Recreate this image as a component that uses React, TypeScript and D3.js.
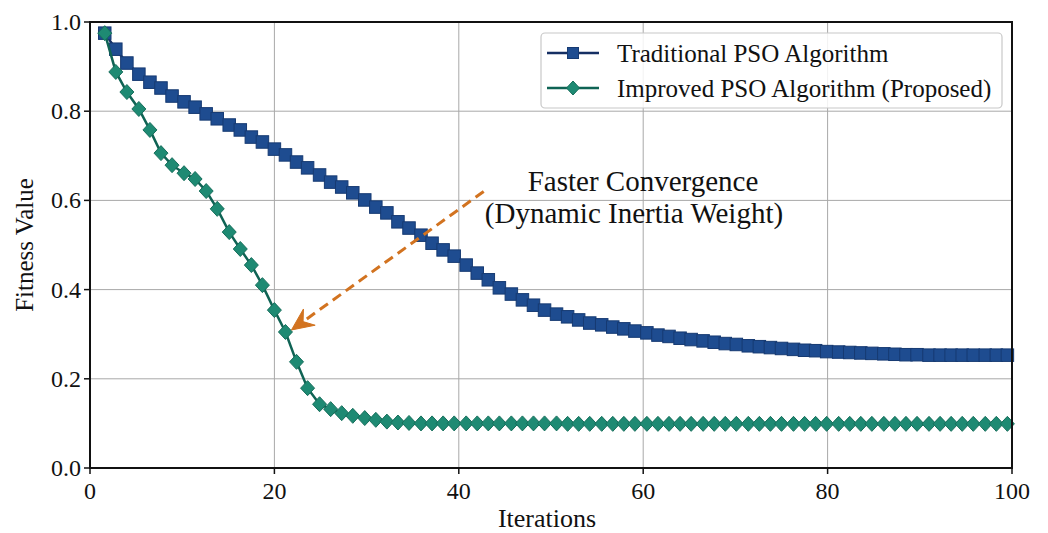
import React from "react";
import * as d3 from "d3";

const iterations = [
  1.6, 2.8, 4.0, 5.3, 6.5, 7.7, 8.9, 10.2, 11.4, 12.6, 13.8, 15.1, 16.3, 17.5, 18.7, 20.0,
  21.2, 22.4, 23.6, 24.9, 26.1, 27.3, 28.5, 29.8, 31.0, 32.2, 33.4, 34.6, 35.9, 37.1, 38.3,
  39.5, 40.8, 42.0, 43.2, 44.4, 45.7, 46.9, 48.1, 49.3, 50.6, 51.8, 53.0, 54.2, 55.5, 56.7,
  57.9, 59.1, 60.4, 61.6, 62.8, 64.0, 65.2, 66.5, 67.7, 68.9, 70.1, 71.4, 72.6, 73.8, 75.0,
  76.3, 77.5, 78.7, 79.9, 81.2, 82.4, 83.6, 84.8, 86.1, 87.3, 88.5, 89.7, 91.0, 92.2, 93.4,
  94.6, 95.8, 97.1, 98.3, 99.5,
];

const traditionalPSO = [
  0.975, 0.939, 0.908, 0.883, 0.865, 0.852, 0.834, 0.821, 0.809, 0.794, 0.783, 0.769, 0.758,
  0.742, 0.731, 0.715, 0.702, 0.686, 0.673, 0.657, 0.641, 0.63, 0.617, 0.601, 0.585, 0.572,
  0.552, 0.538, 0.522, 0.504, 0.489, 0.475, 0.455, 0.437, 0.422, 0.404, 0.39, 0.377, 0.365,
  0.354, 0.345, 0.339, 0.332, 0.325, 0.321, 0.316, 0.312, 0.307, 0.303, 0.298, 0.295, 0.291,
  0.288, 0.285, 0.282, 0.279, 0.277, 0.274, 0.272, 0.27, 0.268, 0.266, 0.264, 0.263, 0.261,
  0.26, 0.259, 0.258, 0.257, 0.256, 0.255, 0.254, 0.254, 0.253, 0.253, 0.253, 0.253, 0.253,
  0.253, 0.253, 0.253,
];

const improvedPSO = [
  0.975, 0.888, 0.843, 0.805, 0.758, 0.706, 0.679, 0.661, 0.648, 0.621, 0.581, 0.529, 0.491,
  0.455, 0.41, 0.354, 0.305, 0.238, 0.179, 0.143, 0.132, 0.123, 0.117, 0.112, 0.108, 0.104,
  0.102, 0.101, 0.1, 0.1, 0.1, 0.1, 0.1, 0.1, 0.1, 0.1, 0.1, 0.1, 0.1, 0.1, 0.1, 0.099, 0.099,
  0.099, 0.099, 0.099, 0.099, 0.099, 0.099, 0.099, 0.099, 0.099, 0.099, 0.099, 0.099, 0.099,
  0.099, 0.099, 0.099, 0.099, 0.099, 0.099, 0.099, 0.099, 0.099, 0.099, 0.099, 0.099, 0.099,
  0.099, 0.099, 0.099, 0.099, 0.099, 0.099, 0.099, 0.099, 0.099, 0.099, 0.099, 0.099,
];

const xTicks = [0, 20, 40, 60, 80, 100];
const yTicks = [0, 0.2, 0.4, 0.6, 0.8, 1.0];
const seriesNames = ["Traditional PSO Algorithm", "Improved PSO Algorithm (Proposed)"];
const annotationLines = ["Faster Convergence", "(Dynamic Inertia Weight)"];
const annotationTarget = { x: 21.2, y: 0.305 };
const annotationTail = { x: 42.7, y: 0.62 };

const W = 1048;
const H = 533;
const FONT = "'Liberation Serif', 'DejaVu Serif', serif";

export default function App() {
  const x = d3.scaleLinear().domain([0, 100]).range([90, 1012]);
  const y = d3.scaleLinear().domain([0, 1]).range([468, 22]);

  const blue = iterations.map((it, i) => [it, traditionalPSO[i]] as [number, number]);
  const green = iterations.map((it, i) => [it, improvedPSO[i]] as [number, number]);
  const line = d3
    .line<[number, number]>()
    .x((d) => x(d[0]))
    .y((d) => y(d[1]));

  const sq = 12.5;
  const dmW = 7;
  const dmH = 7.5;
  const diamond = (cx: number, cy: number, rw: number, rh: number) =>
    `M${cx},${cy - rh}L${cx + rw},${cy}L${cx},${cy + rh}L${cx - rw},${cy}Z`;

  const blueFill = "#1e4c90";
  const blueEdge = "#163a72";
  const blueLine = "#152f63";
  const greenFill = "#1e8a73";
  const greenEdge = "#166e5b";
  const greenLine = "#0f6354";
  const orange = "#d27320";

  const ax0 = x(annotationTail.x);
  const ay0 = y(annotationTail.y);
  const ax1 = x(annotationTarget.x) + 6;
  const ay1 = y(annotationTarget.y) - 2;
  const ang = Math.atan2(ay1 - ay0, ax1 - ax0);
  const headLen = 22;
  const headW = 10;
  const bx = ax1 - headLen * Math.cos(ang);
  const by = ay1 - headLen * Math.sin(ang);
  const px = -Math.sin(ang);
  const py = Math.cos(ang);
  const nx = bx + 0.35 * headLen * Math.cos(ang);
  const ny = by + 0.35 * headLen * Math.sin(ang);
  const head = `M${ax1},${ay1}L${bx + headW * px},${by + headW * py}L${nx},${ny}L${bx - headW * px},${by - headW * py}Z`;

  return (
    <>
      <style>{`body{margin:0;background:#fff}`}</style>
      <svg width={W} height={H} style={{ display: "block", background: "#fff" }} fontFamily={FONT}>
        {xTicks.map((t) => (
          <line key={"gx" + t} x1={x(t)} x2={x(t)} y1={y(0)} y2={y(1)} stroke="#a8a8a8" strokeWidth={1} />
        ))}
        {yTicks.map((t) => (
          <line key={"gy" + t} x1={x(0)} x2={x(100)} y1={y(t)} y2={y(t)} stroke="#a8a8a8" strokeWidth={1} />
        ))}

        <path d={line(blue) || ""} fill="none" stroke={blueLine} strokeWidth={2.5} />
        {blue.map((d, i) => (
          <rect
            key={"b" + i}
            x={x(d[0]) - sq / 2}
            y={y(d[1]) - sq / 2}
            width={sq}
            height={sq}
            fill={blueFill}
            stroke={blueEdge}
            strokeWidth={1}
          />
        ))}
        <path d={line(green) || ""} fill="none" stroke={greenLine} strokeWidth={2.5} />
        {green.map((d, i) => (
          <path key={"g" + i} d={diamond(x(d[0]), y(d[1]), dmW, dmH)} fill={greenFill} stroke={greenEdge} strokeWidth={1} />
        ))}

        <line x1={ax0} y1={ay0} x2={nx} y2={ny} stroke={orange} strokeWidth={3} strokeDasharray="10,6" />
        <path d={head} fill={orange} stroke={orange} strokeWidth={1} />
        <text x={643} y={191} fontSize={29} textAnchor="middle" fill="#111">
          {annotationLines[0]}
        </text>
        <text x={634} y={223} fontSize={29} textAnchor="middle" fill="#111">
          {annotationLines[1]}
        </text>

        <rect x={x(0)} y={y(1)} width={x(100) - x(0)} height={y(0) - y(1)} fill="none" stroke="#111" strokeWidth={2} />

        {xTicks.map((t) => (
          <g key={"xt" + t}>
            <line x1={x(t)} x2={x(t)} y1={y(0)} y2={y(0) + 6} stroke="#111" strokeWidth={1.5} />
            <text x={x(t)} y={y(0) + 31} fontSize={24} textAnchor="middle" fill="#111">
              {t}
            </text>
          </g>
        ))}
        {yTicks.map((t) => (
          <g key={"yt" + t}>
            <line x1={x(0) - 6} x2={x(0)} y1={y(t)} y2={y(t)} stroke="#111" strokeWidth={1.5} />
            <text x={x(0) - 9} y={y(t) + 8} fontSize={24} textAnchor="end" fill="#111">
              {t.toFixed(1)}
            </text>
          </g>
        ))}

        <text x={547} y={527} fontSize={26} textAnchor="middle" fill="#111">
          Iterations
        </text>
        <text transform={`translate(33,${(y(0) + y(1)) / 2}) rotate(-90)`} fontSize={25} textAnchor="middle" fill="#111">
          Fitness Value
        </text>

        <rect x={541} y={33} width={461} height={75} rx={4} fill="#fff" fillOpacity={0.85} stroke="#c8c8c8" strokeWidth={1.2} />
        <line x1={547} x2={599} y1={53} y2={53} stroke={blueLine} strokeWidth={2.5} />
        <rect x={573 - 5.5} y={53 - 5.5} width={11} height={11} fill={blueFill} stroke={blueEdge} strokeWidth={1} />
        <text x={617} y={61.5} fontSize={25} fill="#111">
          {seriesNames[0]}
        </text>
        <line x1={547} x2={599} y1={88} y2={88} stroke={greenLine} strokeWidth={2.5} />
        <path d={diamond(573, 88, 6.5, 7)} fill={greenFill} stroke={greenEdge} strokeWidth={1} />
        <text x={617} y={96.5} fontSize={25} fill="#111">
          {seriesNames[1]}
        </text>
      </svg>
    </>
  );
}
